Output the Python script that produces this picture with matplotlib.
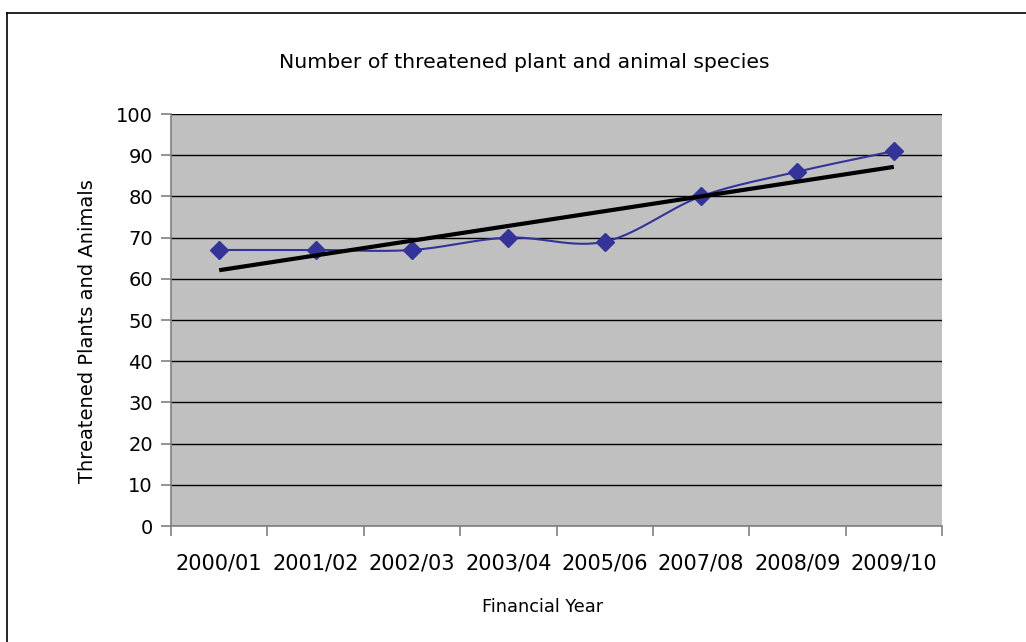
import numpy as np
import matplotlib
matplotlib.use("Agg")
import matplotlib.pyplot as plt
from matplotlib.lines import Line2D

years = ["2000/01", "2001/02", "2002/03", "2003/04", "2005/06", "2007/08", "2008/09", "2009/10"]
species = [67, 67, 67, 70, 69, 80, 86, 91]
y_ticks = [0, 10, 20, 30, 40, 50, 60, 70, 80, 90, 100]

plt.rcParams["font.family"] = ["DejaVu Sans"]

W, H = 1026, 642
fig = plt.figure(figsize=(W / 100, H / 100), dpi=100)
ax = fig.add_axes([171 / W, 1 - 526 / H, (942 - 171) / W, (526 - 114) / H])

# chart-area frame (left and top edges visible)
fig.add_artist(Line2D([7 / W, 7 / W], [0, 1 - 13 / H], transform=fig.transFigure, color="black", lw=1.2))
fig.add_artist(Line2D([7 / W, 1], [1 - 13 / H, 1 - 13 / H], transform=fig.transFigure, color="black", lw=1.2))

ax.set_facecolor("#c0c0c0")
x = np.arange(len(years))
y = np.array(species, dtype=float)


def catmull_rom(px, py, steps=30):
    """Smooth curve through points with Bezier segments (tension 1/6)."""
    px = np.asarray(px, float)
    py = np.asarray(py, float)
    xs, ys = [], []
    n = len(px)
    for i in range(n - 1):
        p0 = (px[max(i - 1, 0)], py[max(i - 1, 0)])
        p1 = (px[i], py[i])
        p2 = (px[i + 1], py[i + 1])
        p3 = (px[min(i + 2, n - 1)], py[min(i + 2, n - 1)])
        c1 = (p1[0] + (p2[0] - p0[0]) / 6, p1[1] + (p2[1] - p0[1]) / 6)
        c2 = (p2[0] - (p3[0] - p1[0]) / 6, p2[1] - (p3[1] - p1[1]) / 6)
        t = np.linspace(0, 1, steps)
        b0 = (1 - t) ** 3
        b1 = 3 * (1 - t) ** 2 * t
        b2 = 3 * (1 - t) * t ** 2
        b3 = t ** 3
        xs.append(b0 * p1[0] + b1 * c1[0] + b2 * c2[0] + b3 * p2[0])
        ys.append(b0 * p1[1] + b1 * c1[1] + b2 * c2[1] + b3 * p2[1])
    return np.concatenate(xs), np.concatenate(ys)


sx, sy = catmull_rom(x, y)
ax.plot(sx, sy, color="#333399", lw=1.5, zorder=3)
ax.plot(x, y, linestyle="none", marker="D", markersize=9.5, color="#333399", zorder=4)

# linear trend line
slope, intercept = np.polyfit(x, y, 1)
ax.plot(x, slope * x + intercept, color="black", lw=3, zorder=5, solid_capstyle="butt")

ax.set_xlim(-0.5, len(years) - 0.5)
ax.set_ylim(0, 100)
ax.set_yticks(y_ticks)
ax.yaxis.grid(True, color="black", lw=1)
ax.set_axisbelow(True)

ax.set_xticks(np.arange(-0.5, len(years)), minor=False)
ax.set_xticklabels([])
ax.set_xticks(x, minor=True)
ax.set_xticklabels(years, minor=True, fontsize=15)
ax.tick_params(axis="x", which="major", length=7, color="#808080", width=1.2)
ax.tick_params(axis="x", which="minor", length=0, pad=20)
ax.tick_params(axis="y", length=7, color="#808080", width=1.2, labelsize=14, pad=6)

for side in ("top", "right"):
    ax.spines[side].set_visible(False)
for side in ("left", "bottom"):
    ax.spines[side].set_color("#808080")
    ax.spines[side].set_linewidth(1.2)

fig.text(524 / W, 1 - 62 / H, "Number of threatened plant and animal species",
         fontsize=14.7, ha="center", va="center")
fig.text(543 / W, 1 - 607 / H, "Financial Year", fontsize=12.8, ha="center", va="center")
fig.text(88 / W, 1 - 331 / H, "Threatened Plants and Animals", fontsize=14,
         ha="center", va="center", rotation=90)

fig.savefig("out.png", dpi=100)
